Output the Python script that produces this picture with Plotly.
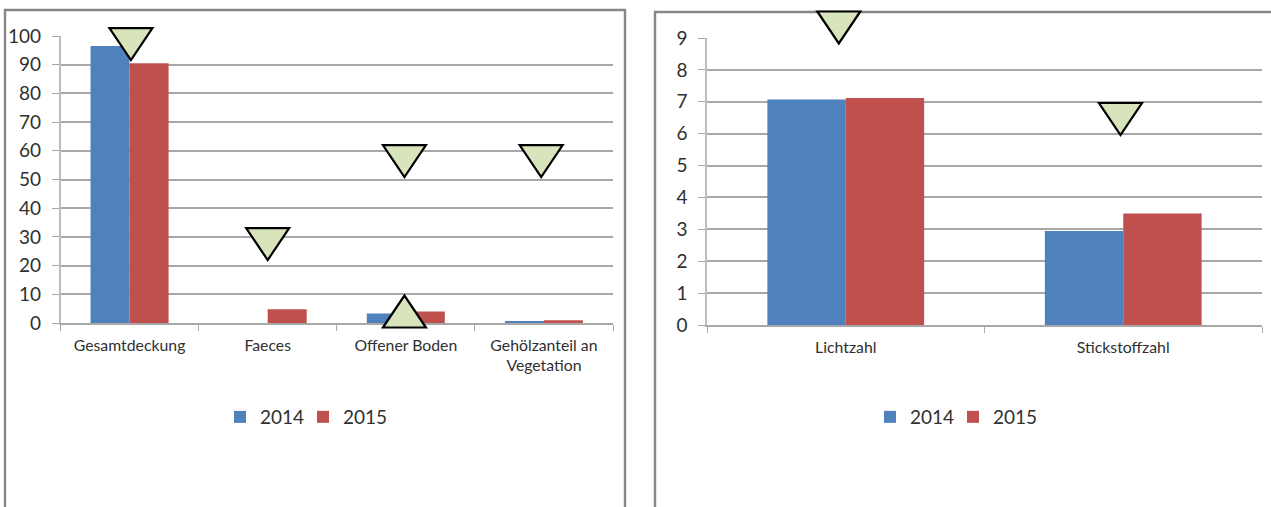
import plotly.graph_objects as go

# Cover and indicator values per survey year
cover_categories = ["Gesamtdeckung", "Faeces", "Offener Boden", "Gehölzanteil an<br>Vegetation"]
cover_2014 = [96.5, 0, 3.3, 0.5]
cover_2015 = [90.5, 4.8, 4.0, 1.0]
cover_ticks = [0, 10, 20, 30, 40, 50, 60, 70, 80, 90, 100]

indicator_categories = ["Lichtzahl", "Stickstoffzahl"]
indicator_2014 = [7.07, 2.95]
indicator_2015 = [7.12, 3.5]
indicator_ticks = [0, 1, 2, 3, 4, 5, 6, 7, 8, 9]

# Trend triangles: category position, axis value at the triangle centre, direction
cover_trends = [(0.01, 97.2, "down"), (1.0, 27.5, "down"), (1.99, 56.4, "down"),
                (2.98, 56.4, "down"), (1.99, 4.0, "up")]
indicator_trends = [(-0.025, 9.33, "down"), (0.99, 6.46, "down")]

W, H = 1271, 507
BLUE, RED = "#4f81bd", "#c0504d"
GRID, FRAME, TEXT = "#a8a8a8", "#868686", "#303030"
FONT = "Lato"

cover_box = (60.5, 613, 36, 323)       # left, right, top, bottom in pixels
indicator_box = (707, 1262, 38, 325)


def px(v):
    return v / W


def py(v):
    return 1 - v / H


def bars(x, y, name, color, xa, ya, legend, show):
    return go.Bar(x=x, y=y, name=name, marker=dict(color=color, line=dict(width=0)),
                  xaxis=xa, yaxis=ya, legend=legend, showlegend=show)


fig = go.Figure()
fig.add_trace(bars(cover_categories, cover_2014, "2014", BLUE, "x", "y", "legend", True))
fig.add_trace(bars(cover_categories, cover_2015, "2015", RED, "x", "y", "legend", True))
fig.add_trace(bars(indicator_categories, indicator_2014, "2014", BLUE, "x2", "y2", "legend2", True))
fig.add_trace(bars(indicator_categories, indicator_2015, "2015", RED, "x2", "y2", "legend2", True))


def x_axis(box, anchor):
    return dict(domain=[px(box[0]), px(box[1])], anchor=anchor, showgrid=False,
                showline=True, linecolor=GRID, linewidth=1.5, ticks="outside",
                tickson="boundaries", ticklen=6, tickcolor=GRID, tickwidth=1.2,
                ticklabelstandoff=7,
                tickfont=dict(family=FONT, size=15.8, color=TEXT), fixedrange=True)


def y_axis(box, anchor, ticks):
    return dict(domain=[py(box[3]), py(box[2])], anchor=anchor, range=[0, ticks[-1]],
                tickvals=ticks, showgrid=True, gridcolor=GRID, gridwidth=1.5,
                showline=True, linecolor="#bdbdbd", linewidth=1.5, ticks="outside",
                ticklen=7, tickcolor=GRID, tickwidth=1.2, zeroline=False,
                ticklabelstandoff=7, tickfont=dict(family=FONT, size=19, color=TEXT),
                fixedrange=True)


shapes = []
# Chart frames run off the bottom and right of the page
for left, top, right in [(5, 10, 625), (655, 12, 1285)]:
    shapes.append(dict(type="rect", xref="paper", yref="paper",
                       x0=px(left), x1=px(right), y0=py(top), y1=py(H + 20),
                       line=dict(color=FRAME, width=2.4), layer="below"))


def triangle(box, ymax, xref, idx, value, direction):
    # Anchored on the category axis; the vertical anchor is the axis value in page fractions
    frac = value / ymax
    anchor = py(box[3]) + frac * (py(box[2]) - py(box[3]))
    # Pixel-sized paths on a shape count y upward
    if direction == "down":
        path = "M-21.5,16 L21.5,16 L0,-16 Z"
    else:
        path = "M-21.5,-16 L21.5,-16 L0,16 Z"
    return dict(type="path", xref=xref, yref="paper", xsizemode="pixel", ysizemode="pixel",
                xanchor=idx, yanchor=anchor, path=path, fillcolor="#d7e4bc",
                line=dict(color="black", width=2.2), layer="above")


for idx, value, direction in cover_trends:
    shapes.append(triangle(cover_box, cover_ticks[-1], "x", idx, value, direction))
for idx, value, direction in indicator_trends:
    shapes.append(triangle(indicator_box, indicator_ticks[-1], "x2", idx, value, direction))


def legend(x):
    return dict(orientation="h", x=px(x), y=py(417), xanchor="center", yanchor="middle",
                font=dict(family=FONT, size=19, color=TEXT), bgcolor="rgba(0,0,0,0)",
                itemwidth=30, entrywidth=38, entrywidthmode="pixels",
                itemclick=False, itemdoubleclick=False)


fig.update_layout(
    width=W, height=H, margin=dict(l=0, r=0, t=0, b=0, autoexpand=False),
    paper_bgcolor="white", plot_bgcolor="rgba(0,0,0,0)",
    barmode="group", bargap=0.435, bargroupgap=0,
    xaxis=x_axis(cover_box, "y"), yaxis=y_axis(cover_box, "x", cover_ticks),
    xaxis2=x_axis(indicator_box, "y2"), yaxis2=y_axis(indicator_box, "x2", indicator_ticks),
    legend=legend(303), legend2=legend(953),
    shapes=shapes,
)

fig.write_html("out.html", config={"displayModeBar": False})
